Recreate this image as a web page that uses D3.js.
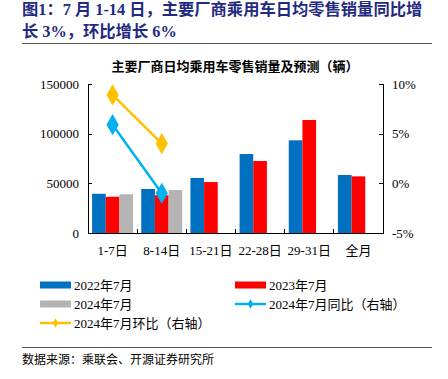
<!DOCTYPE html>
<html lang="zh">
<head>
<meta charset="UTF-8">
<title>主要厂商日均乘用车零售销量及预测</title>
<script src="https://cdn.jsdelivr.net/npm/d3@7/dist/d3.min.js"></script>
<style>
    html, body { margin: 0; padding: 0; background: #fff; }
    svg text { font-family: "Liberation Serif", "Noto Sans CJK SC", serif; fill: #000; }
    .title { fill: #1f2a80; font-weight: bold; font-size: 16.3px; }
    .axis path, .axis line { stroke: #000; shape-rendering: crispEdges; }
    .axis text { font-size: 13px; }
</style>
</head>
<body>
<svg id="chart" width="448" height="379"></svg>
<script>
    var categories = ["1-7日", "8-14日", "15-21日", "22-28日", "29-31日", "全月"];
    var sales2022 = [39500, 44300, 55400, 79500, 93300, 58400];
    var sales2023 = [36500, 38000, 51300, 72500, 113800, 57000];
    var sales2024 = [39000, 43300, null, null, null, null];
    var yoy2024 = [5.9, -1.0];   // 同比 %
    var mom2024 = [8.9, 4.0];    // 环比 %
    var leftTicks = [0, 50000, 100000, 150000];
    var rightTicks = [-5, 0, 5, 10];

    var svg = d3.select("#chart");
    var margin = { left: 88, right: 65, top: 84, bottom: 146 };
    var width = 448 - margin.left - margin.right,
        height = 379 - margin.top - margin.bottom;

    // title
    svg.append("text").attr("class", "title").attr("x", 22).attr("y", 15)
        .text("图1：7 月 1-14 日，主要厂商乘用车日均零售销量同比增");
    svg.append("text").attr("class", "title").attr("x", 22).attr("y", 37)
        .text("长 3%，环比增长 6%");
    svg.append("line").attr("x1", 22).attr("x2", 432).attr("y1", 43.5).attr("y2", 43.5)
        .attr("stroke", "#555").attr("stroke-width", 1);

    svg.append("text").attr("x", 235).attr("y", 71).attr("text-anchor", "middle")
        .style("font-size", "13px").style("font-weight", "bold")
        .text("主要厂商日均乘用车零售销量及预测（辆）");

    var g = svg.append("g").attr("transform", "translate(" + margin.left + "," + margin.top + ")");

    var x = d3.scaleBand().domain(categories).range([0, width]);
    var xs = d3.scaleBand().domain(["a", "b", "c"]).range([0, x.bandwidth()]).paddingOuter(0.3);
    var y = d3.scaleLinear().domain([0, 150000]).range([height, 0]);
    var y2 = d3.scaleLinear().domain([-5, 10]).range([height, 0]);

    var series = [
        { key: "a", vals: sales2022, color: "#0070c0" },
        { key: "b", vals: sales2023, color: "#ff0000" },
        { key: "c", vals: sales2024, color: "#b4b4b4" }
    ];

    series.forEach(function (s) {
        g.selectAll(".bar-" + s.key)
            .data(s.vals.map((v, i) => ({ v: v, c: categories[i] })).filter(d => d.v != null))
            .enter().append("rect")
            .attr("x", d => x(d.c) + xs(s.key))
            .attr("width", xs.bandwidth())
            .attr("y", d => y(d.v))
            .attr("height", d => height - y(d.v))
            .attr("fill", s.color);
    });

    // axes
    g.append("g").attr("class", "axis")
        .call(d3.axisLeft(y).tickValues(leftTicks).tickSize(-4).tickPadding(9).tickFormat(d3.format("d")));
    g.append("g").attr("class", "axis").attr("transform", "translate(" + width + ",0)")
        .call(d3.axisRight(y2).tickValues(rightTicks).tickSize(-4).tickPadding(9).tickFormat(d => d + "%"));
    var xa = g.append("g").attr("class", "axis").attr("transform", "translate(0," + height + ")")
        .call(d3.axisBottom(x).tickSize(0).tickPadding(13));
    xa.selectAll(".tick line").remove();
    // category separators pointing up
    xa.selectAll(".sep").data(categories.slice(1)).enter().append("line")
        .attr("x1", d => x(d)).attr("x2", d => x(d)).attr("y1", 0).attr("y2", -4)
        .attr("stroke", "#000");
    g.selectAll(".axis path.domain").attr("stroke-width", 1);

    // lines on right axis
    var line = d3.line().x((d, i) => x(categories[i]) + x.bandwidth() / 2).y(d => y2(d));
    function drawLine(vals, color) {
        g.append("path").datum(vals).attr("d", line)
            .attr("fill", "none").attr("stroke", color).attr("stroke-width", 2.5);
        g.selectAll(null).data(vals).enter().append("path")
            .attr("d", d3.symbol().type(d3.symbolDiamond).size(130))
            .attr("transform", (d, i) => "translate(" + (x(categories[i]) + x.bandwidth() / 2) + "," + y2(d) + ")")
            .attr("fill", color);
    }
    drawLine(mom2024, "#ffc000");
    drawLine(yoy2024, "#00b0f0");

    // legend
    var legend = [
        { name: "2022年7月", color: "#0070c0", type: "bar", x: 40, y: 285 },
        { name: "2023年7月", color: "#ff0000", type: "bar", x: 235, y: 285 },
        { name: "2024年7月", color: "#b4b4b4", type: "bar", x: 40, y: 304 },
        { name: "2024年7月同比（右轴）", color: "#00b0f0", type: "line", x: 235, y: 304 },
        { name: "2024年7月环比（右轴）", color: "#ffc000", type: "line", x: 40, y: 323 }
    ];
    var lg = svg.selectAll(".lg").data(legend).enter().append("g")
        .attr("transform", d => "translate(" + d.x + "," + d.y + ")");
    lg.filter(d => d.type === "bar").append("rect")
        .attr("x", 0).attr("y", -3.5).attr("width", 31).attr("height", 7).attr("fill", d => d.color);
    lg.filter(d => d.type === "line").append("line")
        .attr("x1", 0).attr("x2", 31).attr("y1", 0).attr("y2", 0)
        .attr("stroke", d => d.color).attr("stroke-width", 2.5);
    lg.filter(d => d.type === "line").append("path")
        .attr("d", d3.symbol().type(d3.symbolDiamond).size(25))
        .attr("transform", "translate(15.5,0)").attr("fill", d => d.color);
    lg.append("text").attr("x", 34).attr("y", 5).style("font-size", "13px").text(d => d.name);

    // source
    svg.append("line").attr("x1", 22).attr("x2", 432).attr("y1", 347.5).attr("y2", 347.5)
        .attr("stroke", "#555").attr("stroke-width", 1);
    svg.append("text").attr("x", 22).attr("y", 364).style("font-size", "12px")
        .text("数据来源：乘联会、开源证券研究所");
</script>
</body>
</html>
